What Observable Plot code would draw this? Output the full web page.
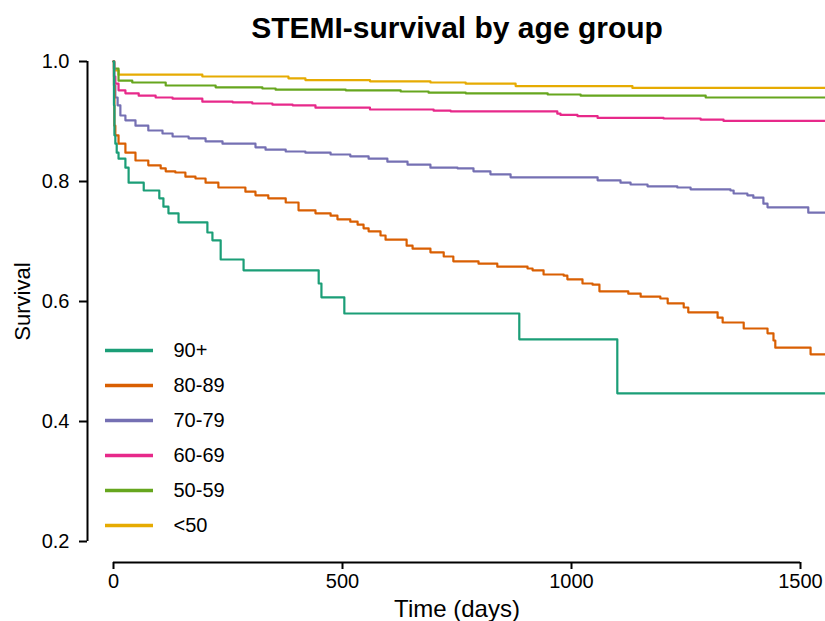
<!DOCTYPE html>
<html>
<head>
<meta charset="utf-8">
<script src="https://cdn.jsdelivr.net/npm/d3@7"></script>
<script src="https://cdn.jsdelivr.net/npm/@observablehq/plot@0.6"></script>
<style>
  html, body { margin: 0; padding: 0; background: #fff; }
  #wrap { position: relative; width: 825px; height: 621px; overflow: hidden; }
  #wrap > svg, #wrap > figure { position: absolute; left: 0; top: 0; margin: 0; }
</style>
</head>
<body>
<div id="wrap"></div>
<script>
const titleText = "STEMI-survival by age group";
const xLabel = "Time (days)";
const yLabel = "Survival";
const xTicks = [0, 500, 1000, 1500];
const yTicks = [0.2, 0.4, 0.6, 0.8, 1.0];

const groups = ["90+", "80-89", "70-79", "60-69", "50-59", "<50"];
const colors = ["#1B9E77", "#D95F02", "#7570B3", "#E7298A", "#66A61E", "#E6AB02"];

// Kaplan-Meier step points (day, survival)
const t90 = [0, 1, 2, 4, 7, 11, 26, 33, 66, 100, 109, 120, 142, 205, 216, 234, 284, 448, 454, 504, 886, 1100, 1560];
const s90 = [1.0, 0.927, 0.877, 0.863, 0.848, 0.838, 0.823, 0.798, 0.785, 0.772, 0.758, 0.747, 0.732, 0.715, 0.702, 0.670, 0.652, 0.630, 0.607, 0.580, 0.537, 0.447, 0.447];

const t80 = [0, 1, 2, 4, 11, 26, 48, 76, 103, 114, 135, 157, 179, 201, 229, 288, 310, 338, 376, 404, 441, 474, 489, 517, 533, 546, 557, 583, 594, 640, 653, 692, 721, 742, 797, 838, 904, 915, 939, 983, 991, 1024, 1046, 1061, 1124, 1151, 1194, 1210, 1245, 1255, 1319, 1330, 1376, 1428, 1441, 1445, 1522, 1560];
const s80 = [1.0, 0.96, 0.893, 0.877, 0.863, 0.848, 0.835, 0.827, 0.822, 0.817, 0.815, 0.808, 0.805, 0.798, 0.790, 0.783, 0.777, 0.772, 0.765, 0.752, 0.747, 0.743, 0.737, 0.733, 0.728, 0.722, 0.717, 0.710, 0.703, 0.693, 0.688, 0.682, 0.675, 0.667, 0.663, 0.658, 0.655, 0.652, 0.645, 0.643, 0.637, 0.630, 0.628, 0.617, 0.613, 0.608, 0.605, 0.597, 0.590, 0.582, 0.573, 0.565, 0.555, 0.547, 0.535, 0.523, 0.512, 0.512];

const t70 = [0, 2, 4, 9, 15, 26, 48, 76, 107, 129, 164, 201, 238, 310, 332, 376, 419, 474, 517, 557, 598, 642, 692, 751, 786, 823, 867, 1057, 1107, 1129, 1166, 1231, 1260, 1347, 1354, 1384, 1397, 1419, 1428, 1517, 1560];
const s70 = [1.0, 0.96, 0.94, 0.927, 0.910, 0.902, 0.893, 0.885, 0.880, 0.875, 0.872, 0.867, 0.863, 0.857, 0.853, 0.850, 0.848, 0.845, 0.842, 0.838, 0.833, 0.828, 0.823, 0.822, 0.817, 0.812, 0.807, 0.802, 0.798, 0.795, 0.792, 0.790, 0.787, 0.785, 0.780, 0.777, 0.773, 0.763, 0.757, 0.748, 0.748];

const t60 = [0, 1, 4, 11, 26, 55, 92, 129, 194, 260, 303, 347, 391, 441, 560, 699, 736, 969, 976, 1013, 1057, 1201, 1282, 1332, 1560];
const s60 = [1.0, 0.975, 0.963, 0.952, 0.947, 0.943, 0.940, 0.938, 0.933, 0.932, 0.930, 0.928, 0.927, 0.923, 0.920, 0.918, 0.917, 0.913, 0.911, 0.909, 0.906, 0.905, 0.903, 0.901, 0.901];

const t50 = [0, 1, 11, 41, 114, 223, 325, 354, 507, 627, 688, 769, 948, 1020, 1293, 1560];
const s50 = [1.0, 0.988, 0.968, 0.965, 0.960, 0.957, 0.955, 0.953, 0.952, 0.950, 0.948, 0.947, 0.945, 0.943, 0.940, 0.940];

const t49 = [0, 2, 11, 194, 382, 419, 560, 692, 769, 878, 1133, 1560];
const s49 = [1.0, 0.985, 0.978, 0.975, 0.972, 0.969, 0.967, 0.965, 0.963, 0.959, 0.956, 0.956];

const series = [[t90, s90], [t80, s80], [t70, s70], [t60, s60], [t50, s50], [t49, s49]];
const rows = [];
series.forEach(([ts, ss], i) => ts.forEach((t, j) => rows.push({g: groups[i], t, s: ss[j]})));
const drawOrder = groups.slice().reverse();

const font = "'Liberation Sans', Arial, Helvetica, sans-serif";

const chart = Plot.plot({
  width: 825,
  height: 621,
  marginLeft: 113,
  marginRight: 25,
  marginTop: 61,
  marginBottom: 80,
  style: {fontFamily: font, fontSize: "20px", color: "#000", background: "transparent"},
  x: {domain: [0, 1500]},
  y: {domain: [0.2, 1.0]},
  color: {domain: groups, range: colors},
  marks: [
    Plot.ruleX([0], {y1: yTicks[0], y2: yTicks[yTicks.length - 1], dx: -26, stroke: "#000", strokeWidth: 2}),
    Plot.axisY({ticks: yTicks, tickFormat: d3.format(".1f"), tickSize: 8, tickPadding: 10, dx: -26, label: null, fontSize: 20, strokeWidth: 2}),
    Plot.ruleY([yTicks[0]], {x1: xTicks[0], x2: xTicks[xTicks.length - 1], dy: 21, stroke: "#000", strokeWidth: 2}),
    Plot.axisX({ticks: xTicks, tickFormat: d3.format("d"), tickSize: 7, tickPadding: 4, dy: 21, label: null, fontSize: 20, strokeWidth: 2}),
    ...drawOrder.map(g => Plot.line(rows.filter(r => r.g === g), {x: "t", y: "s", stroke: "g", curve: "step-after", strokeWidth: 2.2})),
    Plot.text([yLabel], {frameAnchor: "left", textAnchor: "middle", lineAnchor: "middle", rotate: -90, dx: -91, fontSize: 22}),
    Plot.text([xLabel], {frameAnchor: "bottom", lineAnchor: "middle", dy: 68, fontSize: 24}),
    Plot.text([titleText], {frameAnchor: "top", lineAnchor: "middle", dy: -33, fontSize: 30, fontWeight: "bold"})
  ]
});

const legend = Plot.plot({
  width: 825,
  height: 621,
  margin: 0,
  style: {fontFamily: font, fontSize: "20px", color: "#000", background: "transparent"},
  x: {domain: [0, 825], range: [0, 825], axis: null},
  y: {type: "point", domain: groups, range: [349, 525], padding: 0, axis: null},
  color: {domain: groups, range: colors},
  marks: [
    Plot.ruleY(groups, {y: d => d, x1: 105, x2: 153, stroke: d => d, strokeWidth: 3.6}),
    Plot.text(groups, {y: d => d, x: 173, text: d => d, textAnchor: "start", fontSize: 20})
  ]
});

const wrap = document.getElementById("wrap");
wrap.appendChild(chart);
wrap.appendChild(legend);
</script>
</body>
</html>
